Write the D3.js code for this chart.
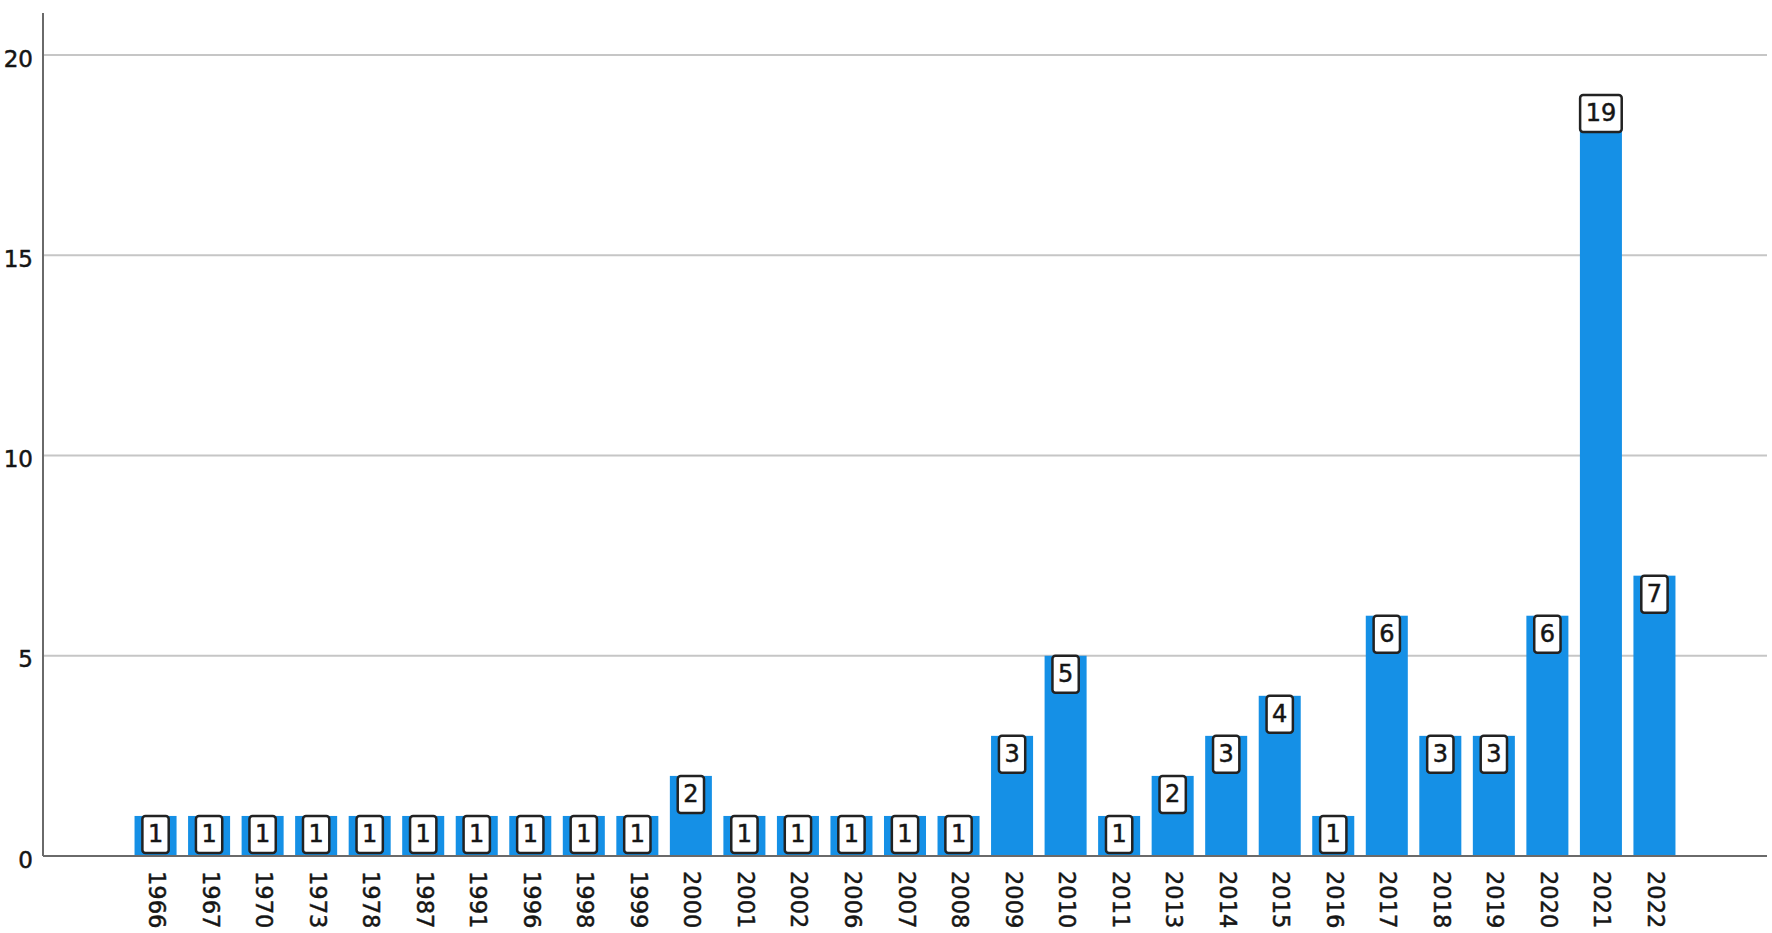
<!DOCTYPE html>
<html>
<head>
<meta charset="utf-8">
<script src="https://cdn.jsdelivr.net/npm/d3@7"></script>
<style>
  html, body { margin: 0; padding: 0; background: #fff; }
  svg { display: block; font-family: "DejaVu Sans", sans-serif; }
  .lbl { fill: #151515; stroke: #151515; stroke-width: 0.5px; }
</style>
</head>
<body>
<div id="chart"></div>
<script>
// Data
const years  = ["1966","1967","1970","1973","1978","1987","1991","1996","1998","1999",
                "2000","2001","2002","2006","2007","2008","2009","2010","2011","2013",
                "2014","2015","2016","2017","2018","2019","2020","2021","2022"];
const counts = [1,1,1,1,1,1,1,1,1,1,
                2,1,1,1,1,1,3,5,1,2,
                3,4,1,6,3,3,6,19,7];
const yTicks = [0, 5, 10, 15, 20];

// Layout
const W = 1772, H = 933;
const plotLeft = 43, plotRight = 1767, plotBase = 856, plotTop = 13;

const svg = d3.select("#chart").append("svg")
  .attr("width", W)
  .attr("height", H);

const x = d3.scaleBand()
  .domain(years)
  .range([plotLeft, plotRight])
  .paddingInner(0.215)
  .paddingOuter(1.71);

const y = d3.scaleLinear()
  .domain([0, 21.05])
  .range([plotBase, plotTop]);

// Gridlines
svg.append("g")
  .selectAll("line")
  .data(yTicks.filter(t => t > 0))
  .enter().append("line")
    .attr("x1", plotLeft).attr("x2", plotRight)
    .attr("y1", d => y(d)).attr("y2", d => y(d))
    .attr("stroke", "#c6c6c6")
    .attr("stroke-width", 2);

// Y axis labels
svg.append("g")
  .selectAll("text")
  .data(yTicks)
  .enter().append("text")
    .attr("class", "lbl")
    .attr("x", 33)
    .attr("y", d => y(d) + 5)
    .attr("text-anchor", "end")
    .attr("dominant-baseline", "middle")
    .attr("font-size", 23)
    .text(d => d);

// Bars
svg.append("g")
  .selectAll("rect")
  .data(counts)
  .enter().append("rect")
    .attr("x", (d, i) => x(years[i]))
    .attr("y", d => y(d))
    .attr("width", x.bandwidth())
    .attr("height", d => plotBase - y(d))
    .attr("fill", "#1590e6");

// Axis lines
svg.append("line")
  .attr("x1", plotLeft).attr("x2", plotLeft)
  .attr("y1", plotTop).attr("y2", plotBase)
  .attr("stroke", "#6a6a6a")
  .attr("stroke-width", 2);

svg.append("line")
  .attr("x1", plotLeft).attr("x2", plotRight)
  .attr("y1", plotBase).attr("y2", plotBase)
  .attr("stroke", "#6a6a6a")
  .attr("stroke-width", 2);

// X tick labels (rotated)
svg.append("g")
  .selectAll("text")
  .data(years)
  .enter().append("text")
    .attr("class", "lbl")
    .attr("transform", d => `translate(${x(d) + x.bandwidth() / 2},871) rotate(90)`)
    .attr("dominant-baseline", "middle")
    .attr("font-size", 22.5)
    .text(d => d);

// Value labels in boxes
const lab = svg.append("g")
  .selectAll("g")
  .data(counts)
  .enter().append("g")
    .attr("transform", (d, i) => `translate(${x(years[i]) + x.bandwidth() / 2},${y(d)})`);

lab.append("rect")
  .attr("x", d => -(String(d).length * 15.3 + 11) / 2)
  .attr("y", 0)
  .attr("width", d => String(d).length * 15.3 + 11)
  .attr("height", 37)
  .attr("rx", 3)
  .attr("fill", "#fff")
  .attr("stroke", "#222")
  .attr("stroke-width", 2.5);

lab.append("text")
  .attr("class", "lbl")
  .attr("x", 0)
  .attr("y", 19)
  .attr("text-anchor", "middle")
  .attr("dominant-baseline", "middle")
  .attr("font-size", 24)
  .text(d => d);
</script>
</body>
</html>
